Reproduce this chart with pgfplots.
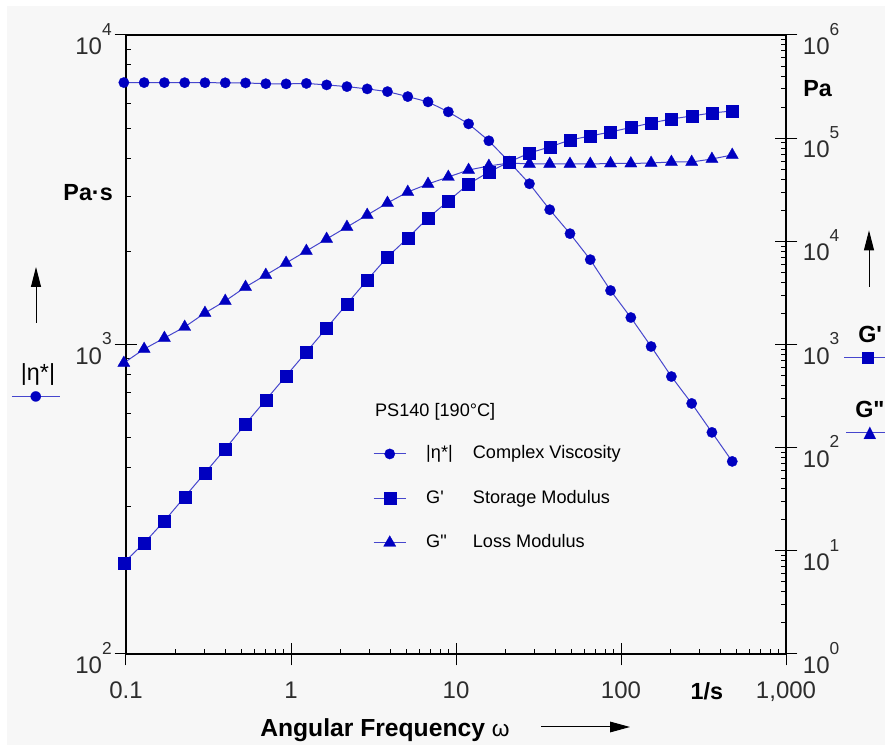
\documentclass[border=0pt]{standalone}
\usepackage{pgfplots}
\usepackage{pgfplotstable}
\pgfplotsset{compat=1.18}
\usepackage{fontspec}
\setmainfont{Liberation Sans}
\newfontfamily\dejavu{DejaVu Sans}
\usetikzlibrary{arrows.meta}
\definecolor{mk}{RGB}{0,0,192}
\definecolor{ln}{RGB}{70,70,205}
\definecolor{bg}{RGB}{247,247,247}
\definecolor{tl}{RGB}{45,45,45}
\newcommand{\tenexp}[1]{10\raisebox{14.5pt}{\fontsize{13}{13}\selectfont #1}}
\newcommand{\cglyph}[2]{\sbox0{\resizebox{#1}{!}{\dejavu #2}}\raisebox{\dimexpr(\dp0-\ht0)/2\relax}{\usebox0}}
\newcommand{\sample}[2]{\makebox[0pt]{\color{ln}\rule[-0.375pt]{#1}{0.75pt}}\makebox[0pt]{\color{mk}#2}}

\pgfplotstableread{
w eta gp gpp
0.09705 7020 7.67 662
0.1288 7018 11.9 904
0.1709 7016 19.5 1156
0.2268 7014 33.3 1479
0.3010 7012 56.9 2020
0.3995 7008 97.1 2641
0.5302 7000 169.8 3609
0.7036 6960 289.9 4717
0.9338 6950 495.5 6166
1.239 6975 845.6 8060
1.644 6898 1445 10540
2.182 6811 2470 13770
2.896 6696 4220 17990
3.843 6563 7050 23530
5.101 6324 10770 30080
6.769 6079 16830 35970
8.982 5644 24600 42060
11.92 5162 35970 49130
15.82 4551 46990 53740
20.99 3894 58750 57440
27.86 3306 71820 56200
36.98 2726 82100 56200
49.07 2281 95960 56200
65.12 1880 105000 56200
86.42 1494 114800 56820
114.7 1222 126900 56820
152.2 985 140300 57440
202.0 788 153400 58750
268.1 645 164000 58750
355.7 520 175400 62810
472.1 419 183400 68700
}\datatable

\pgfplotsset{
  ser/.style={color=ln, line width=0.75pt, mark options={solid, fill=mk, draw=mk, line width=0.2pt}},
}

\begin{document}
\begin{tikzpicture}
\fill[white] (0,0) rectangle (663.75pt,558.75pt);
\fill[bg] (5.25pt,0) rectangle (663.75pt,554.25pt);
\path[use as bounding box] (0,0) rectangle (663.75pt,558.75pt);

\begin{axis}[
  scale only axis, width=495pt, height=464.25pt,
  at={(94.5pt,68.25pt)}, anchor=south west,
  xmode=log, ymode=log, xmin=0.1, xmax=1000, clip=false,
  tick align=center, major tick length=17pt, minor tick length=3.75pt,
  tick style={black, line width=0.75pt},
  every minor x tick/.append style={yshift=1.875pt},
  every minor y tick/.append style={xshift=1.875pt},
  axis line style={black, line width=0.8pt},
  tick label style={font=\fontsize{18}{18}\selectfont, text=tl, inner sep=0pt},
  axis x line*=bottom, axis y line*=left,
  ymin=100, ymax=10000,
  xtick={0.1,1,10,100,1000}, xticklabels={0.1,1,10,100,{1,000}},
  minor xtick={0.2,0.3,0.4,0.5,0.6,0.7,0.8,0.9,2,3,4,5,6,7,8,9,20,30,40,50,60,70,80,90,200,300,400,500,600,700,800,900},
  ytick={100,1000,10000}, yticklabels={\tenexp{2},\tenexp{3},\tenexp{4}},
  minor ytick={200,300,400,500,600,700,800,900,2000,3000,4000,5000,6000,7000,8000,9000},
  xticklabel style={anchor=north, yshift=-12pt},
  yticklabel style={anchor=east, xshift=-2pt, yshift=-3pt},
]
\addplot[ser, mark=*, mark size=3.9pt] table[x=w, y=eta]{\datatable};
\node[anchor=north, inner sep=0pt, font=\bfseries\fontsize{17.5}{17.5}\selectfont, yshift=-21pt] at (rel axis cs:0.880,0) {1/s};
\end{axis}

\begin{axis}[
  scale only axis, width=495pt, height=464.25pt,
  at={(94.5pt,68.25pt)}, anchor=south west,
  xmode=log, ymode=log, xmin=0.1, xmax=1000, clip=false,
  tick align=center, major tick length=17pt, minor tick length=3.75pt,
  tick style={black, line width=0.75pt},
  every minor y tick/.append style={xshift=-1.875pt},
  axis line style={black, line width=0.8pt},
  tick label style={font=\fontsize{18}{18}\selectfont, text=tl, inner sep=0pt},
  axis x line*=top, axis y line*=right,
  ymin=1, ymax=1000000,
  xtick=\empty,
  ytick={1,10,100,1000,10000,100000,1000000},
  yticklabels={\tenexp{0},\tenexp{1},\tenexp{2},\tenexp{3},\tenexp{4},\tenexp{5},\tenexp{6}},
  minor ytick={2,3,4,5,6,7,8,9,20,30,40,50,60,70,80,90,200,300,400,500,600,700,800,900,2000,3000,4000,5000,6000,7000,8000,9000,20000,30000,40000,50000,60000,70000,80000,90000,200000,300000,400000,500000,600000,700000,800000,900000},
  yticklabel style={anchor=west, xshift=4pt, yshift=-3pt},
  legend style={draw=none, fill=none, at={(0.3742,0.3376)}, anchor=north west,
    inner sep=0pt, row sep=20.3pt, column sep=15pt,
    font=\fontsize{13.6}{16}\selectfont,
    nodes={inner sep=0pt, text height=10pt, text depth=3pt}},
  legend cell align=left,
  legend image code/.code={\draw[#1, mark repeat=2, mark phase=2] plot coordinates {(0pt,0pt) (12pt,0pt) (24pt,0pt)};},
]
\addlegendimage{ser, mark=*, mark size=3.9pt}
\addlegendentry{\makebox[35pt][l]{|η*|}Complex Viscosity}
\addplot[ser, mark=square*, mark size=4.5pt] table[x=w, y=gp]{\datatable};
\addlegendentry{\makebox[35pt][l]{G\textquotesingle}Storage Modulus}
\addplot[ser, mark=triangle*, mark size=5.3pt] table[x=w, y=gpp]{\datatable};
\addlegendentry{\makebox[35pt][l]{G\textquotedbl}Loss Modulus}
\node[anchor=base west, inner sep=0pt, font=\fontsize{13.6}{16}\selectfont] at (rel axis cs:0.377,0.3829) {PS140 [190°C]};
\end{axis}

% left annotations
\node[anchor=east, inner sep=0pt, font=\bfseries\fontsize{17.5}{17.5}\selectfont] at (84.75pt,414pt) {Pa·s};
\draw[line width=0.75pt, -{Triangle[length=15pt,width=7.5pt]}] (27pt,316.5pt) -- (27pt,358.5pt);
\node[inner sep=0pt, font=\fontsize{17.5}{17.5}\selectfont] at (28.5pt,277.5pt) {|η*|};
\node[anchor=base, inner sep=0pt] at (27pt,261pt) {\sample{36pt}{\cglyph{9pt}{●}}};
% right annotations
\node[anchor=west, inner sep=0pt, font=\bfseries\fontsize{17.5}{17.5}\selectfont] at (602.25pt,492pt) {Pa};
\draw[line width=0.75pt, -{Triangle[length=15pt,width=7.5pt]}] (651.75pt,343.5pt) -- (651.75pt,386pt);
\node[anchor=west, inner sep=0pt, font=\bfseries\fontsize{17.5}{17.5}\selectfont] at (643.5pt,308.25pt) {G\textquotesingle};
\node[anchor=base, inner sep=0pt] at (651pt,290.25pt) {\sample{36pt}{\raisebox{-4.5pt}{\rule{9pt}{9pt}}}};
\node[anchor=west, inner sep=0pt, font=\bfseries\fontsize{17.5}{17.5}\selectfont] at (641.25pt,252pt) {G\textquotedbl};
\node[anchor=base, inner sep=0pt] at (652.5pt,234pt) {\sample{36pt}{\cglyph{9.5pt}{▲}}};
% x axis title
\node[anchor=base west, inner sep=0pt] at (195pt,6pt) {\bfseries\fontsize{18.5}{18.5}\selectfont Angular Frequency\ \mdseries\fontsize{17}{17}\selectfont ω};
\draw[line width=0.75pt, -{Triangle[length=15pt,width=8pt]}] (405.75pt,13.5pt) -- (472.5pt,13.5pt);
\end{tikzpicture}
\end{document}
